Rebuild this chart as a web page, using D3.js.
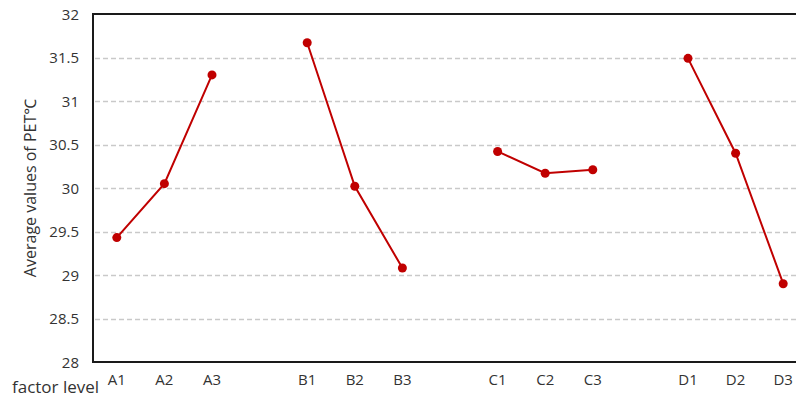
<!DOCTYPE html>
<html>
<head>
<meta charset="utf-8">
<script src="https://cdn.jsdelivr.net/npm/d3@7"></script>
<style>
  html, body { margin: 0; padding: 0; background: #fff; }
  svg { display: block; }
  text { font-family: "Open Sans", "Noto Sans", sans-serif; fill: #333; }
</style>
</head>
<body>
<svg id="chart" width="796" height="399"></svg>
<script>
// Factor groups and their levels
const groups = ["A", "B", "C", "D"];
const levels = ["A1", "A2", "A3", "B1", "B2", "B3", "C1", "C2", "C3", "D1", "D2", "D3"];
// Average PET (°C) for each level
const petValues = [29.43, 30.05, 31.30, 31.67, 30.02, 29.08, 30.42, 30.17, 30.21, 31.49, 30.40, 28.90];
const yTicks = [28, 28.5, 29, 29.5, 30, 30.5, 31, 31.5, 32];

const svg = d3.select("#chart");
const margin = { left: 93, top: 14, bottom: 362, right: 807 };

// 15 slots: three levels per group plus one empty slot between groups
const slotOf = i => i + Math.floor(i / 3);
const x = d3.scaleBand()
  .domain(d3.range(15))
  .range([margin.left, margin.right])
  .paddingInner(0).paddingOuter(0);
const xc = i => x(slotOf(i)) + x.bandwidth() / 2;

const y = d3.scaleLinear().domain([28, 32]).range([margin.bottom, margin.top]);

// Dashed horizontal gridlines
svg.append("g")
  .selectAll("line")
  .data(yTicks.filter(t => t > 28 && t < 32))
  .join("line")
  .attr("x1", margin.left + 2)
  .attr("x2", 796)
  .attr("y1", d => Math.round(y(d)) + 0.5)
  .attr("y2", d => Math.round(y(d)) + 0.5)
  .attr("stroke", "#c9c9c9")
  .attr("stroke-width", 1.3)
  .attr("stroke-dasharray", "5,3");

// Y axis labels
const yAxis = svg.append("g")
  .attr("transform", `translate(${margin.left},0)`)
  .call(d3.axisLeft(y).tickValues(yTicks).tickSize(0).tickPadding(14).tickFormat(d3.format("")));
yAxis.select(".domain").remove();
yAxis.selectAll("text")
  .style("font-size", "15px")
  .attr("fill", "#333")
  .attr("dy", "0.35em");

// X axis labels
const xAxis = svg.append("g")
  .attr("transform", `translate(0,${margin.bottom})`)
  .call(d3.axisBottom(x)
    .tickValues(levels.map((d, i) => slotOf(i)))
    .tickFormat(s => levels[s - Math.floor(s / 4)])
    .tickSize(0).tickPadding(12));
xAxis.select(".domain").remove();
xAxis.selectAll("text")
  .style("font-size", "15px")
  .attr("fill", "#333");

// Plot frame: left, bottom and top borders
const frame = svg.append("g").attr("stroke", "#1a1a1a").attr("stroke-width", 2).attr("fill", "none");
frame.append("line").attr("x1", margin.left).attr("x2", margin.left).attr("y1", margin.top).attr("y2", margin.bottom + 1);
frame.append("line").attr("x1", margin.left - 1).attr("x2", 796).attr("y1", margin.bottom).attr("y2", margin.bottom);
frame.append("line").attr("x1", margin.left - 1).attr("x2", 796).attr("y1", margin.top).attr("y2", margin.top);

// Lines connect the levels within each factor group
const line = d3.line().x(d => xc(d.i)).y(d => y(d.v));
const pts = petValues.map((v, i) => ({ v, i, g: groups[Math.floor(i / 3)] }));
const byGroup = d3.groups(pts, d => d.g);

svg.append("g")
  .selectAll("path")
  .data(byGroup)
  .join("path")
  .attr("d", d => line(d[1]))
  .attr("fill", "none")
  .attr("stroke", "#c00000")
  .attr("stroke-width", 2);

svg.append("g")
  .selectAll("circle")
  .data(pts)
  .join("circle")
  .attr("cx", d => xc(d.i))
  .attr("cy", d => y(d.v))
  .attr("r", 4.5)
  .attr("fill", "#c00000");

// Axis titles
svg.append("text")
  .attr("transform", "translate(36,188) rotate(-90)")
  .attr("text-anchor", "middle")
  .style("font-size", "16px")
  .text("Average values of PET℃");

svg.append("text")
  .attr("x", 12)
  .attr("y", 393)
  .style("font-size", "17px")
  .text("factor level");
</script>
</body>
</html>
